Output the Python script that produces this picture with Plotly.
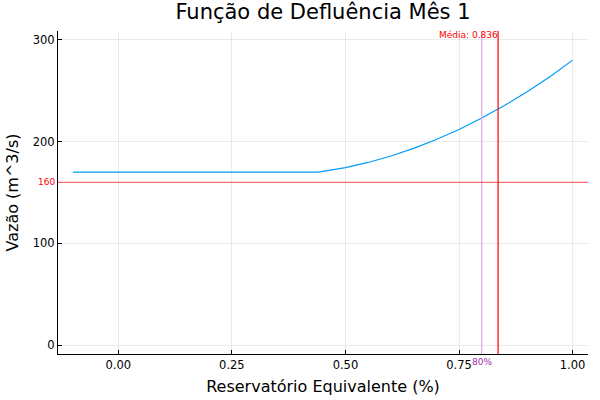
import plotly.graph_objects as go

# Data
reservatorio = [-0.1, 0.44, 0.5, 0.55, 0.6, 0.65, 0.7, 0.75, 0.8, 0.85, 0.9, 0.95, 1.0]
vazao = [170, 170, 174.5, 179.5, 185.8, 193.3, 202.0, 211.9, 223.1, 235.4, 249.0, 263.7, 280]
limite_vazao = 160
media = 0.836
percentil_80 = 0.8
x_ticks = [0.0, 0.25, 0.5, 0.75, 1.0]
x_ticklabels = ["0.00", "0.25", "0.50", "0.75", "1.00"]
y_ticks = [0, 100, 200, 300]

FONT = "DejaVu Sans"
XR = [-0.1327, 1.0339]
YR = [-8.6, 308.6]

fig = go.Figure()
fig.add_trace(go.Scatter(x=reservatorio, y=vazao, mode="lines",
                         line=dict(color="#009AFA", width=1.2), showlegend=False))
fig.add_trace(go.Scatter(x=[percentil_80, percentil_80], y=YR, mode="lines",
                         line=dict(color="#DDA8E0", width=1.2), showlegend=False))
fig.add_trace(go.Scatter(x=[media, media], y=YR, mode="lines",
                         line=dict(color="#FF0000", width=1.2), showlegend=False))
fig.add_trace(go.Scatter(x=XR, y=[limite_vazao, limite_vazao], mode="lines",
                         line=dict(color="rgba(240,50,50,0.7)", width=1.2), showlegend=False))

fig.add_annotation(x=0, xref="paper", xanchor="right", xshift=-1, y=limite_vazao, yref="y",
                   text=str(limite_vazao), showarrow=False,
                   font=dict(family=FONT, size=9, color="#FF0000"))
fig.add_annotation(x=media, xref="x", xanchor="right", xshift=2, y=1, yref="paper", yanchor="top",
                   yshift=3, text=f"Média: {media}", showarrow=False,
                   font=dict(family=FONT, size=9, color="#FF0000"))
fig.add_annotation(x=percentil_80, xref="x", xanchor="center", y=0, yref="paper", yanchor="top",
                   yshift=-1, text="80%", showarrow=False,
                   font=dict(family=FONT, size=9, color="#A030A8"))

fig.update_layout(
    width=600, height=400,
    margin=dict(l=58, r=12, t=30.5, b=45.5, autoexpand=False),
    paper_bgcolor="white", plot_bgcolor="white",
    title=dict(text="Função de Defluência Mês 1", x=(58 + 588) / 2 / 600, xanchor="center",
               y=1 - 12 / 400, yanchor="middle",
               font=dict(family=FONT, size=21, color="black")),
    font=dict(family=FONT, color="black"),
)
fig.update_xaxes(range=XR, tickvals=x_ticks, ticktext=x_ticklabels, automargin=False,
                 showgrid=True, gridcolor="rgba(0,0,0,0.08)", gridwidth=1,
                 showline=True, linecolor="black", linewidth=1, mirror=False,
                 ticks="inside", ticklen=4, tickcolor="black", zeroline=False,
                 tickfont=dict(family=FONT, size=11.5, color="black"),
                 title=dict(text="Reservatório Equivalente (%)", standoff=10,
                            font=dict(family=FONT, size=16, color="black")))
fig.update_yaxes(range=YR, tickvals=y_ticks, automargin=False,
                 showgrid=True, gridcolor="rgba(0,0,0,0.08)", gridwidth=1,
                 showline=True, linecolor="black", linewidth=1, mirror=False,
                 ticks="inside", ticklen=4, tickcolor="black", zeroline=False,
                 tickfont=dict(family=FONT, size=11.5, color="black"),
                 title=dict(text="Vazão (m^3/s)", standoff=10,
                            font=dict(family=FONT, size=16, color="black")))

fig.write_html("out.html", config={"displayModeBar": False},
               post_script="document.body.style.margin='0';")
